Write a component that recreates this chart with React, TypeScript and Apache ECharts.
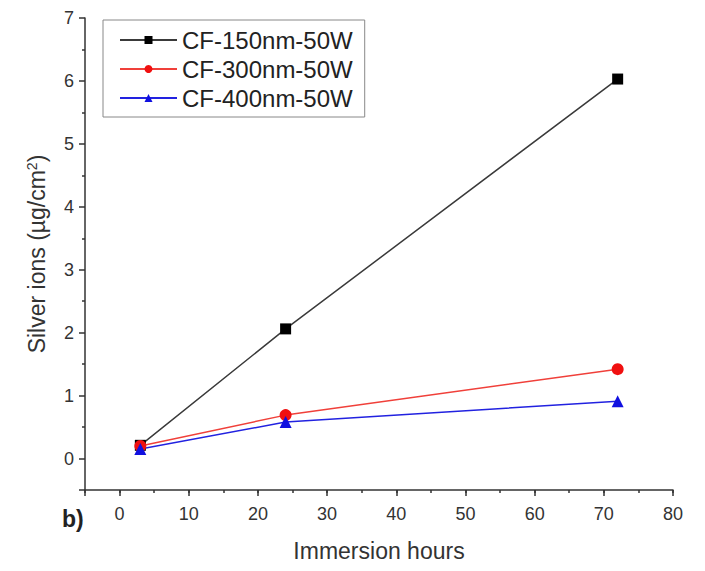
import React, { useEffect, useRef } from "react";
import * as echarts from "echarts";

const hours = [3, 24, 72];
const cf150 = [0.21, 2.06, 6.03];
const cf300 = [0.2, 0.69, 1.42];
const cf400 = [0.15, 0.58, 0.91];
const seriesNames = ["CF-150nm-50W", "CF-300nm-50W", "CF-400nm-50W"];
const panelLabel = "b)";

const FONT = "Liberation Sans, Arial, sans-serif";

export default function App() {
  const ref = useRef<HTMLDivElement>(null);
  useEffect(() => {
    document.body.style.margin = "0";
    if (!ref.current) return;
    const chart = echarts.init(ref.current, null, { renderer: "svg" });
    const toPairs = (ys: number[]) => hours.map((h, i) => [h, ys[i]]);
    const axisColor = "#333";
    chart.setOption({
      animation: false,
      backgroundColor: "#fff",
      textStyle: { fontFamily: FONT },
      grid: { left: 85, right: 32, top: 18, bottom: 81, containLabel: false },
      legend: {
        left: 103, top: 20, orient: "vertical", borderColor: "#888", borderWidth: 1,
        padding: [8, 12, 7, 16], itemGap: 5, itemWidth: 57, itemHeight: 10,
        textStyle: { fontSize: 24, color: "#222", fontFamily: FONT, lineHeight: 24 },
        data: seriesNames,
      },
      xAxis: [
        {
          type: "value", min: -5, max: 80, splitNumber: 8,
          axisLine: { show: true, onZero: false, lineStyle: { color: axisColor, width: 1.5 } },
          axisTick: { show: true, length: 6, inside: false, lineStyle: { color: axisColor, width: 1.5 } },
          splitLine: { show: false },
          axisLabel: { fontSize: 18, color: "#333", margin: 15, formatter: (v: number) => (v < 0 ? "" : String(v)) },
          name: "Immersion hours", nameLocation: "middle", nameGap: 49,
          nameTextStyle: { fontSize: 23, color: "#333" },
        },
        {
          type: "value", min: -5, max: 80, interval: 5, position: "bottom",
          axisLine: { show: false, onZero: false },
          axisTick: { show: true, length: 3, lineStyle: { color: axisColor, width: 1.5 } },
          axisLabel: { show: false }, splitLine: { show: false },
        },
      ],
      yAxis: [
        {
          type: "value", min: -0.5, max: 7, splitNumber: 7, position: "left",
          axisLine: { show: true, onZero: false, lineStyle: { color: axisColor, width: 1.5 } },
          axisTick: { show: true, length: 6, inside: false, lineStyle: { color: axisColor, width: 1.5 } },
          minorTick: { show: true, splitNumber: 2, length: 3, lineStyle: { color: axisColor, width: 1.5 } },
          splitLine: { show: false },
          axisLabel: { fontSize: 18, color: "#333", margin: 11, formatter: (v: number) => (v < 0 ? "" : String(v)) },
          name: "Silver ions (µg/cm{sup|2})", nameLocation: "middle", nameGap: 36, nameRotate: 90,
          nameTextStyle: {
            fontSize: 23, color: "#333",
            rich: { sup: { fontSize: 14, verticalAlign: "top", color: "#333", padding: [0, 0, 10, 0] } },
          },
        },
      ],
      series: [
        { name: seriesNames[0], type: "line", data: toPairs(cf150), symbol: "rect", symbolSize: 11, lineStyle: { color: "#3a3a3a", width: 1.5 }, itemStyle: { color: "#000" } },
        { name: seriesNames[1], type: "line", data: toPairs(cf300), symbol: "circle", symbolSize: 12, lineStyle: { color: "#f0403a", width: 1.5 }, itemStyle: { color: "#f01010" } },
        { name: seriesNames[2], type: "line", data: toPairs(cf400), symbol: "triangle", symbolSize: 12, lineStyle: { color: "#2222e0", width: 1.5 }, itemStyle: { color: "#1010e0" } },
      ],
    });
    return () => chart.dispose();
  }, []);
  return (
    <div style={{ position: "relative", width: 705, height: 571 }}>
      <div ref={ref} style={{ width: 705, height: 571 }} />
      <div
        style={{
          position: "absolute",
          left: 62,
          top: 506,
          fontFamily: FONT,
          fontSize: 23,
          fontWeight: "bold",
          color: "#222",
          lineHeight: "26px",
        }}
      >
        {panelLabel}
      </div>
    </div>
  );
}
